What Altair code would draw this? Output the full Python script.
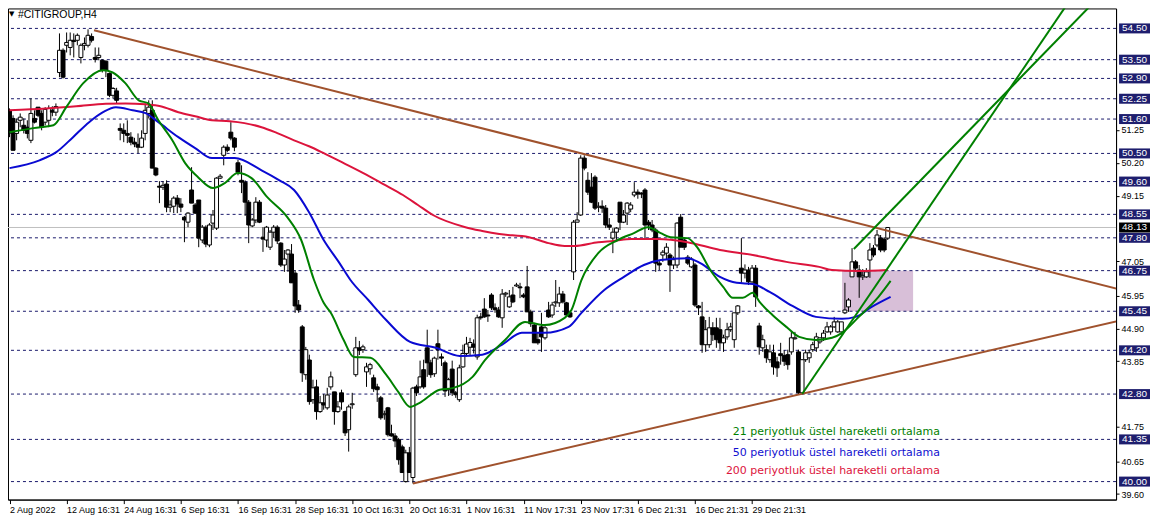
import altair as alt
import pandas as pd

# ---------------- candle data (H4 bars, price in USD) ----------------
open_p = [
    51.88, 51.62, 51.14, 51.56, 51.40, 51.34, 50.92, 51.62, 51.98, 51.78,
    51.50, 51.56, 51.88, 51.82, 53.09, 53.80, 53.96, 53.89, 54.12, 54.12,
    53.57, 53.96, 53.96, 54.24, 53.57, 53.57, 53.48, 53.45, 53.06, 52.36,
    52.50,
    51.30, 51.24, 51.14, 51.02, 50.86, 50.79, 50.70, 51.14, 51.78, 51.88,
    50.03, 49.45, 49.42, 49.52, 48.78, 48.81, 49.07, 48.88, 48.46, 48.30,
    49.33, 48.85, 49.01, 47.73, 48.14, 47.57, 48.27, 48.11, 49.71, 50.44,
    50.70, 51.18, 50.99, 50.20, 49.64, 49.58, 48.94, 48.18, 48.37, 48.94,
    47.82, 47.73, 47.50, 47.98, 48.14, 47.63, 46.93, 47.28, 47.28, 46.67,
    45.65,
    44.95, 43.42, 43.89, 42.62, 43.03, 42.24, 42.52, 42.36, 43.03, 42.87,
    42.24, 42.84, 42.24, 41.66, 42.46, 43.42, 44.28, 44.22, 43.51, 43.61,
    43.32, 43.03, 42.68, 42.14, 42.36, 41.53, 41.46, 41.34, 41.11, 40.00,
    40.92, 40.13, 43.03, 43.03, 43.58, 44.28, 43.80,
    43.45, 44.41, 43.99, 43.80, 42.94, 43.60, 42.84, 42.62, 43.67, 44.10,
    44.30, 44.40, 43.99,
    45.27, 45.52, 45.33, 45.97, 45.56, 45.49, 45.24, 46.00, 45.59, 45.97,
    46.26, 46.23, 45.97, 46.23, 45.43, 45.01, 44.54, 44.95, 44.60, 45.49,
    45.33, 45.72, 45.72, 46.00, 45.72, 45.40, 46.71, 48.30, 48.53, 50.35,
    49.64, 49.42, 49.74, 48.78, 48.81, 48.75, 48.21, 47.79, 47.98, 48.94,
    48.30, 48.59, 48.72, 49.17, 49.26, 49.23, 49.33, 48.30, 48.21, 48.05,
    46.99, 47.25, 47.31, 47.25, 46.93, 46.93, 48.46, 47.73, 47.18, 46.87,
    46.93, 45.62, 45.27, 44.38, 44.38, 44.92, 44.92, 44.86, 44.44, 44.63,
    44.86, 44.54, 45.40, 46.83, 46.67, 46.77, 46.39, 46.83, 44.98, 44.28,
    44.22, 43.90, 44.12, 43.83, 44.09, 44.03, 44.06, 44.15, 44.57, 44.15,
    42.84, 43.90, 43.96, 44.22, 44.28, 44.47, 44.60, 44.79, 44.79, 44.95,
    44.79, 44.79, 45.40, 45.59, 46.55, 47.03, 46.77, 46.55, 46.55, 47.09,
    47.47, 47.57, 47.79, 47.76, 47.79,
]
high_p = [
    51.94, 51.72, 51.62, 51.78, 51.62, 51.56, 52.26, 51.88, 51.98, 51.88,
    51.98, 52.04, 52.01, 52.10, 54.34, 53.86, 54.37, 54.37, 54.34, 54.34,
    54.02, 54.21, 54.47, 54.34, 53.89, 53.89, 53.51, 53.48, 53.09, 52.62,
    52.60,
    51.46, 51.46, 51.56, 51.18, 51.00, 51.14, 51.24, 52.10, 52.20, 52.20,
    50.06, 49.61, 49.61, 49.64, 49.00, 49.13, 49.17, 49.07, 48.50, 48.62,
    50.06, 48.91, 49.01, 48.21, 48.20, 48.27, 48.69, 49.74, 49.84, 50.76,
    50.79, 51.50, 51.02, 50.30, 50.12, 49.64, 49.01, 48.43, 49.10, 49.01,
    48.14, 48.18, 48.05, 48.21, 48.20, 47.66, 47.41, 47.44, 47.60, 46.77,
    45.81,
    45.01, 44.31, 44.06, 43.26, 43.26, 42.74, 42.80, 43.00, 43.52, 42.87,
    42.58, 42.94, 42.27, 42.46, 42.84, 44.63, 44.50, 44.38, 43.80, 43.80,
    43.42, 43.13, 42.74, 42.27, 42.39, 41.82, 41.55, 41.40, 41.18, 41.02,
    41.11, 43.03, 43.10, 43.87, 43.90, 44.86, 43.90,
    44.00, 44.86, 44.10, 43.87, 43.32, 43.87, 42.90, 43.74, 44.38, 44.63,
    44.60, 44.55, 45.34,
    45.40, 45.87, 45.49, 46.03, 45.70, 45.59, 46.16, 46.07, 46.13, 46.23,
    46.36, 46.36, 46.03, 46.90, 45.50, 45.08, 44.76, 45.40, 45.01, 45.75,
    45.75, 46.45, 46.23, 46.10, 45.75, 45.43, 48.37, 48.62, 50.44, 50.44,
    49.90, 49.87, 49.80, 48.94, 49.00, 48.85, 48.43, 48.11, 48.14, 48.94,
    48.69, 48.94, 48.94, 49.58, 49.35, 49.26, 49.39, 48.37, 48.37, 48.11,
    47.09, 47.41, 47.63, 47.31, 47.20, 48.30, 48.56, 47.79, 47.25, 47.18,
    46.99, 45.65, 45.75, 45.17, 45.27, 45.10, 45.24, 45.24, 44.70, 45.08,
    45.08, 45.40, 45.65, 47.79, 46.95, 46.87, 46.93, 46.93, 45.08, 44.70,
    44.38, 44.38, 44.38, 43.99, 44.44, 44.20, 44.22, 44.79, 44.79, 44.22,
    43.90, 44.22, 44.22, 44.47, 44.76, 44.60, 44.85, 45.11, 45.01, 45.27,
    45.17, 45.11, 46.36, 45.87, 47.47, 47.09, 46.93, 46.80, 46.83, 47.63,
    47.57, 48.05, 47.89, 47.82, 48.13,
]
low_p = [
    51.02, 50.60, 50.92, 51.34, 51.14, 50.98, 50.83, 51.46, 51.66, 51.24,
    51.40, 51.34, 51.69, 51.70, 52.94, 52.90, 53.73, 53.64, 53.57, 53.96,
    53.38, 53.80, 53.89, 54.05, 53.41, 53.48, 53.09, 52.94, 52.30, 52.26,
    52.10,
    50.92, 50.86, 50.83, 50.76, 50.70, 50.51, 50.67, 50.92, 51.62, 50.03,
    49.77, 48.91, 49.33, 48.62, 48.62, 48.59, 48.59, 48.62, 47.66, 48.14,
    48.91, 48.56, 47.50, 47.63, 47.50, 47.50, 48.05, 48.05, 49.68, 50.12,
    50.54, 50.92, 50.57, 49.80, 49.23, 48.50, 47.63, 48.14, 48.27, 48.27,
    47.35, 47.50, 47.41, 47.79, 47.60, 46.87, 46.71, 46.71, 46.36, 45.40,
    45.40,
    43.19, 43.26, 42.46, 42.49, 41.98, 42.20, 42.30, 42.30, 42.94, 41.82,
    42.20, 42.30, 41.46, 40.96, 42.33, 43.35, 44.05, 44.12, 43.03, 43.42,
    42.87, 42.55, 41.98, 41.98, 41.44, 41.44, 41.10, 40.54, 40.29, 39.97,
    40.29, 39.94, 42.74, 42.97, 42.97, 43.35, 43.32,
    43.35, 43.90, 43.70, 42.71, 42.74, 42.74, 42.68, 42.55, 43.64, 44.00,
    44.05, 44.10, 43.90,
    45.18, 45.24, 45.11, 45.49, 45.40, 45.24, 44.92, 45.91, 45.56, 45.71,
    46.23, 45.87, 45.87, 45.43, 44.95, 44.44, 44.38, 44.15, 44.54, 45.24,
    45.24, 45.59, 45.59, 45.70, 45.27, 45.24, 46.45, 48.30, 48.50, 49.96,
    49.17, 48.91, 48.69, 48.62, 48.60, 48.11, 48.05, 47.31, 47.73, 48.05,
    48.27, 48.21, 48.62, 49.10, 49.05, 49.07, 47.79, 48.05, 47.98, 46.71,
    46.77, 47.03, 47.09, 46.07, 46.80, 46.83, 47.50, 47.41, 46.93, 46.83,
    45.59, 45.33, 44.12, 44.15, 44.28, 44.50, 44.28, 44.22, 44.15, 44.54,
    44.79, 44.28, 45.33, 46.36, 46.50, 46.29, 46.36, 45.59, 44.06, 44.15,
    43.80, 43.80, 43.42, 43.35, 43.74, 43.70, 43.58, 44.06, 44.54, 42.78,
    42.78, 43.83, 43.80, 44.15, 44.15, 44.41, 44.50, 44.76, 44.70, 44.92,
    44.76, 44.70, 45.36, 45.43, 46.55, 46.71, 45.88, 46.45, 46.52, 46.52,
    47.18, 47.50, 47.34, 47.34, 47.73,
]
close_p = [
    51.15, 50.60, 51.50, 51.66, 51.24, 51.14, 51.78, 51.50, 51.72, 51.34,
    51.91, 51.94, 51.82, 52.00, 53.80, 52.94, 54.05, 54.12, 54.08, 54.28,
    53.96, 54.02, 54.28, 54.12, 53.51, 53.64, 53.16, 53.16, 52.36, 52.58,
    52.20,
    51.24, 51.14, 51.08, 50.86, 50.80, 50.70, 50.99, 51.88, 51.98, 50.03,
    49.81, 49.42, 49.48, 48.78, 48.85, 49.07, 48.88, 48.78, 48.37, 48.59,
    48.91, 48.59, 47.79, 48.14, 47.60, 48.21, 48.53, 49.71, 49.77, 50.70,
    50.60, 50.99, 50.70, 49.90, 49.58, 48.94, 48.21, 48.37, 48.94, 48.30,
    47.76, 48.14, 47.98, 48.14, 47.70, 46.93, 47.12, 47.41, 46.36, 45.62,
    45.49,
    43.48, 44.22, 42.56, 43.00, 42.24, 42.52, 42.45, 42.77, 43.35, 42.24,
    42.39, 42.55, 41.56, 42.39, 42.49, 44.28, 44.20, 44.31, 43.67, 43.74,
    42.97, 42.94, 42.04, 42.17, 41.50, 41.46, 41.30, 40.70, 40.29, 40.92,
    40.29, 42.99, 42.84, 43.35, 43.03, 43.80, 43.42,
    43.95, 44.22, 43.95, 42.90, 43.26, 42.84, 42.78, 43.64, 44.10, 44.40,
    44.45, 44.30, 45.24,
    45.24, 45.27, 45.30, 45.56, 45.50, 45.27, 46.00, 46.03, 45.91, 45.75,
    46.29, 46.20, 45.91, 45.43, 45.05, 44.44, 44.44, 44.63, 44.92, 45.27,
    45.65, 45.75, 46.00, 45.75, 45.33, 45.27, 48.30, 48.37, 50.35, 50.03,
    49.26, 48.94, 48.75, 48.81, 48.75, 48.21, 48.14, 47.98, 48.11, 48.30,
    48.53, 48.91, 48.85, 49.26, 49.20, 49.20, 48.21, 48.21, 48.05, 46.99,
    46.93, 47.34, 47.50, 46.93, 47.10, 48.27, 47.50, 47.50, 46.99, 47.12,
    45.65, 45.56, 44.38, 44.86, 44.92, 44.70, 44.54, 44.44, 44.60, 44.86,
    44.95, 45.40, 45.62, 46.67, 46.77, 46.39, 46.83, 45.91, 44.31, 44.54,
    43.96, 44.15, 43.67, 43.64, 44.03, 43.85, 43.74, 44.60, 44.60, 42.84,
    43.90, 44.12, 44.12, 44.38, 44.63, 44.60, 44.75, 44.95, 44.95, 45.11,
    45.11, 45.11, 45.49, 45.81, 47.03, 46.83, 46.55, 46.60, 46.71, 47.41,
    47.25, 47.89, 47.41, 47.41, 48.13,
]

# ---------------- moving averages ----------------
ema21_bar = [0, 6.7, 12.3, 15.9, 20.6, 26.2, 28.9, 32.5, 36.2, 38.9,
             41.7, 45.6, 49.2, 52.8, 57.0, 60.3, 63.9, 67.8, 72.2, 77.8,
             81.7, 85.3, 88.0, 90.0, 93.6, 96.4, 101.1, 105.5, 108.9, 112.2,
             114.9, 120.5, 124.1, 129.7, 133.3, 138.8, 144.4, 149.9, 155.5, 157.4,
             160.2, 164.9, 170.4, 174.9, 178.8, 182.4, 185.2, 189.9, 192.6, 196.3,
             199.9, 202.6, 205.4, 208.2, 210.1, 213.7, 217.6, 221.2, 225.9, 230.4,
             233.2, 237.9, 243.4, 246.8]
ema21_val = [51.18, 51.31, 51.40, 51.98, 52.74, 53.16, 53.09, 52.74, 52.20, 52.10,
             51.56, 50.92, 50.19, 49.74, 49.39, 49.55, 49.87, 49.71, 49.10, 48.46,
             47.73, 46.45, 45.72, 45.40, 44.53, 43.99, 43.96, 43.42, 42.87, 42.39,
             42.52, 42.94, 42.99, 43.35, 43.90, 44.53, 45.11, 45.01, 45.24, 45.49,
             46.45, 47.31, 47.73, 47.95, 48.14, 47.95, 47.82, 47.79, 47.50, 46.77,
             46.23, 45.88, 45.88, 46.04, 45.75, 45.33, 44.95, 44.63, 44.53, 44.60,
             44.76, 45.27, 45.91, 46.42]
ema50_bar = [0, 8.4, 13.1, 17.8, 22.3, 26.2, 29.8, 34.5, 38.1, 41.7,
             47.3, 52.0, 56.7, 63.1, 70.6, 75.6, 79.7, 83.9, 88.0, 92.2,
             95.5, 100.5, 105.5, 112.2, 119.4, 126.1, 132.4, 138.0, 143.5, 149.9,
             156.6, 160.2, 166.6, 172.1, 177.7, 182.4, 189.9, 193.5, 199.0, 203.7,
             208.2, 212.9, 219.3, 225.9, 233.2, 237.0, 241.5, 246.8]
ema50_val = [50.03, 50.28, 50.54, 51.02, 51.50, 51.82, 51.98, 51.88, 51.79, 51.50,
             51.02, 50.67, 50.35, 50.35, 49.96, 49.64, 49.33, 48.62, 47.73, 47.03,
             46.45, 45.81, 45.17, 44.47, 44.28, 44.02, 44.06, 44.38, 44.76, 44.76,
             44.95, 45.40, 46.13, 46.55, 46.93, 47.09, 47.15, 46.99, 46.55, 46.36,
             46.32, 46.07, 45.62, 45.27, 45.21, 45.27, 45.59, 45.91]
ema200_bar = [0, 10.3, 18.7, 27.0, 32.5, 38.1, 42.3, 47.3, 52.0, 56.7,
              61.7, 65.8, 70.6, 75.0, 79.7, 83.9, 88.0, 93.6, 99.1, 104.7,
              110.2, 114.4, 118.6, 127.7, 132.4, 137.2, 145.5, 151.0, 155.5, 158.2,
              164.9, 169.3, 174.1, 181.5, 189.9, 199.0, 208.2, 217.6, 226.8, 230.4,
              237.9, 246.0]
ema200_val = [51.88, 51.94, 52.01, 52.09, 52.10, 52.07, 52.01, 51.82, 51.69, 51.56,
              51.53, 51.47, 51.34, 51.15, 50.92, 50.73, 50.51, 50.19, 49.87, 49.52,
              49.17, 48.85, 48.53, 48.14, 48.02, 47.92, 47.82, 47.63, 47.54, 47.54,
              47.66, 47.70, 47.76, 47.76, 47.66, 47.41, 47.25, 47.03, 46.87, 46.77,
              46.74, 46.77]

# ---------------- objects drawn on the chart ----------------
level_prices = [54.50, 53.50, 52.90, 52.25, 51.60, 50.50, 49.60, 48.55, 47.80,
                46.75, 45.45, 44.20, 42.80, 41.35, 40.00]
axis_ticks = [39.60, 40.65, 41.75, 43.85, 44.90, 45.95, 47.05,
              49.15, 50.20, 51.25]
last_price = [48.13]

date_bars = [0, 16, 32, 48, 64, 80, 96, 112, 128, 144, 160, 176, 192, 208]
date_labels = ["2 Aug 2022", "12 Aug 16:31", "24 Aug 16:31", "6 Sep 16:31",
               "16 Sep 16:31", "28 Sep 16:31", "10 Oct 16:31", "20 Oct 16:31",
               "1 Nov 16:31", "11 Nov 17:31", "23 Nov 17:31", "6 Dec 21:31",
               "16 Dec 21:31", "29 Dec 21:31"]

trend_bar1 = [23.67, 113.0, 222.06, 236.5]
trend_p1 = [54.44, 39.94, 42.81, 47.44]
trend_bar2 = [311.0, 311.0, 296.4, 303.4]
trend_p2 = [46.15, 45.15, 55.30, 55.30]
trend_colors = ["#a0522d", "#a0522d", "#008000", "#008000"]

zone_bars = [233.2, 253.1]
zone_prices = [45.45, 46.75]

note_texts = ["21 periyotluk üstel hareketli ortalama",
              "50 periyotluk üstel hareketli ortalama",
              "200 periyotluk üstel hareketli ortalama"]
note_prices = [41.59, 40.93, 40.35]
note_bar = 260.6
note_colors = ["#008000", "#1010d0", "#dc143c"]

# ---------------- build the chart ----------------
n = len(open_p)
assert n == len(high_p) == len(low_p) == len(close_p) == 247

candles = pd.DataFrame({"bar": list(range(n)), "open": open_p, "high": high_p,
                        "low": low_p, "close": close_p})

xs = alt.Scale(domain=[-0.42, 309.95], nice=False, zero=False)
ys = alt.Scale(domain=[39.424, 55.139], nice=False, zero=False)
AX_FONT = "Liberation Sans"
LEVEL_C = "#1a1a6b"
BOX_C = "#1e1e6e"

label_expr = ("[" + ",".join(repr(s) for s in date_labels) +
              "][round(datum.value / 16)]")

X_AXIS = alt.Axis(orient="bottom", values=date_bars, labelExpr=label_expr, title=None,
                  grid=False, tickSize=4, tickColor="black", domainColor="black",
                  labelColor="black", labelFont=AX_FONT, labelFontSize=9,
                  labelAlign="left", labelBaseline="top", labelPadding=2,
                  labelFlush=False, labelOverlap=False)
Y_AXIS = alt.Axis(orient="right", values=axis_ticks, format=".2f", title=None, grid=False,
                  tickSize=3, tickColor="black", domainColor="black", labelColor="black",
                  labelFont=AX_FONT, labelFontSize=9, labelPadding=2,
                  labelFlush=False, labelOverlap=False)


def X(field):
    return alt.X(field, type="quantitative", scale=xs, axis=X_AXIS)


def Y(field):
    return alt.Y(field, type="quantitative", scale=ys, axis=Y_AXIS)


zone = alt.Chart(pd.DataFrame({"b0": [zone_bars[0]], "b1": [zone_bars[1]],
                               "p0": [zone_prices[0]], "p1": [zone_prices[1]]})).mark_rect(
    color="#d8bfd8").encode(x=X("b0"), x2="b1", y=Y("p0"), y2="p1")

levels_df = pd.DataFrame({"price": level_prices})
levels = alt.Chart(levels_df).mark_rule(color=LEVEL_C, strokeDash=[3, 3], strokeWidth=1).encode(
    y=Y("price"))

last_df = pd.DataFrame({"price": last_price})
last_line = alt.Chart(last_df).mark_rule(color="#c0c0c0", strokeWidth=1).encode(y=Y("price"))

wicks = alt.Chart(candles).mark_rule(color="black", strokeWidth=1).encode(
    x=X("bar"), y=Y("low"), y2="high")

bodies = alt.Chart(candles).transform_calculate(
    b0="datum.bar - 0.55", b1="datum.bar + 0.55").mark_rect(stroke="black", strokeWidth=1).encode(
    x=X("b0"), x2="b1", y=Y("open"), y2="close",
    fill=alt.condition("datum.close >= datum.open", alt.value("white"), alt.value("black")))


def ema_layer(bars, vals, color):
    df = pd.DataFrame({"bar": bars, "val": vals})
    return alt.Chart(df).mark_line(color=color, strokeWidth=2, interpolate="monotone",
                                   clip=True).encode(x=X("bar"), y=Y("val"))


ema200 = ema_layer(ema200_bar, ema200_val, "#dc143c")
ema50 = ema_layer(ema50_bar, ema50_val, "#0a0ad2")
ema21 = ema_layer(ema21_bar, ema21_val, "#008000")

trend_df = pd.DataFrame({"b1": trend_bar1, "p1": trend_p1, "b2": trend_bar2,
                         "p2": trend_p2, "c": trend_colors})
trends = alt.Chart(trend_df).mark_rule(strokeWidth=2, clip=True).encode(
    x=X("b1"), x2="b2", y=Y("p1"), y2="p2",
    color=alt.Color("c:N", scale=None, legend=None))

notes_df = pd.DataFrame({"t": note_texts, "price": note_prices,
                         "bar": [note_bar] * 3, "c": note_colors})
notes = alt.Chart(notes_df).mark_text(align="right", baseline="middle",
                                      font="DejaVu Sans", fontSize=11).encode(
    x=X("bar"), y=Y("price"), text="t:N",
    color=alt.Color("c:N", scale=None, legend=None))

title_df = pd.DataFrame({"t": ["#CITIGROUP,H4"]})
title = alt.Chart(title_df).mark_text(align="left", baseline="middle", font=AX_FONT,
                                      fontSize=10.5, color="black").encode(
    x=alt.value(10), y=alt.value(7), text="t:N")
tri_df = pd.DataFrame({"t": ["▼"]})
tri = alt.Chart(tri_df).mark_text(align="left", baseline="middle", font="DejaVu Sans",
                                  fontSize=7, color="black").encode(
    x=alt.value(1), y=alt.value(6), text="t:N")

boxes = alt.Chart(levels_df).mark_rect(color=BOX_C, yOffset=-5, y2Offset=5, clip=False).encode(
    x=alt.value(1113), x2=alt.value(1144), y=Y("price"), y2="price")
box_text = alt.Chart(levels_df).mark_text(color="white", align="left", baseline="middle",
                                          font=AX_FONT, fontSize=10, clip=False).encode(
    x=alt.value(1116), y=Y("price"), text=alt.Text("price:Q", format=".2f"))
last_box = alt.Chart(last_df).mark_rect(color="black", yOffset=-5, y2Offset=5, clip=False).encode(
    x=alt.value(1113), x2=alt.value(1144), y=Y("price"), y2="price")
last_text = alt.Chart(last_df).mark_text(color="white", align="left", baseline="middle",
                                         font=AX_FONT, fontSize=10, clip=False).encode(
    x=alt.value(1116), y=Y("price"), text=alt.Text("price:Q", format=".2f"))

chart = alt.layer(
    zone, levels, last_line, wicks, bodies, ema200, ema50, ema21, trends, notes,
    title, tri, boxes, box_text, last_box, last_text
).properties(
    width=1110, height=492,
    autosize=alt.AutoSizeParams(type="none"),
    padding={"left": 0, "top": 0, "right": 34, "bottom": 20},
    background="white",
).configure_view(stroke="black", strokeWidth=1)

chart.save("out.html", embed_options={"renderer": "svg", "actions": False})
